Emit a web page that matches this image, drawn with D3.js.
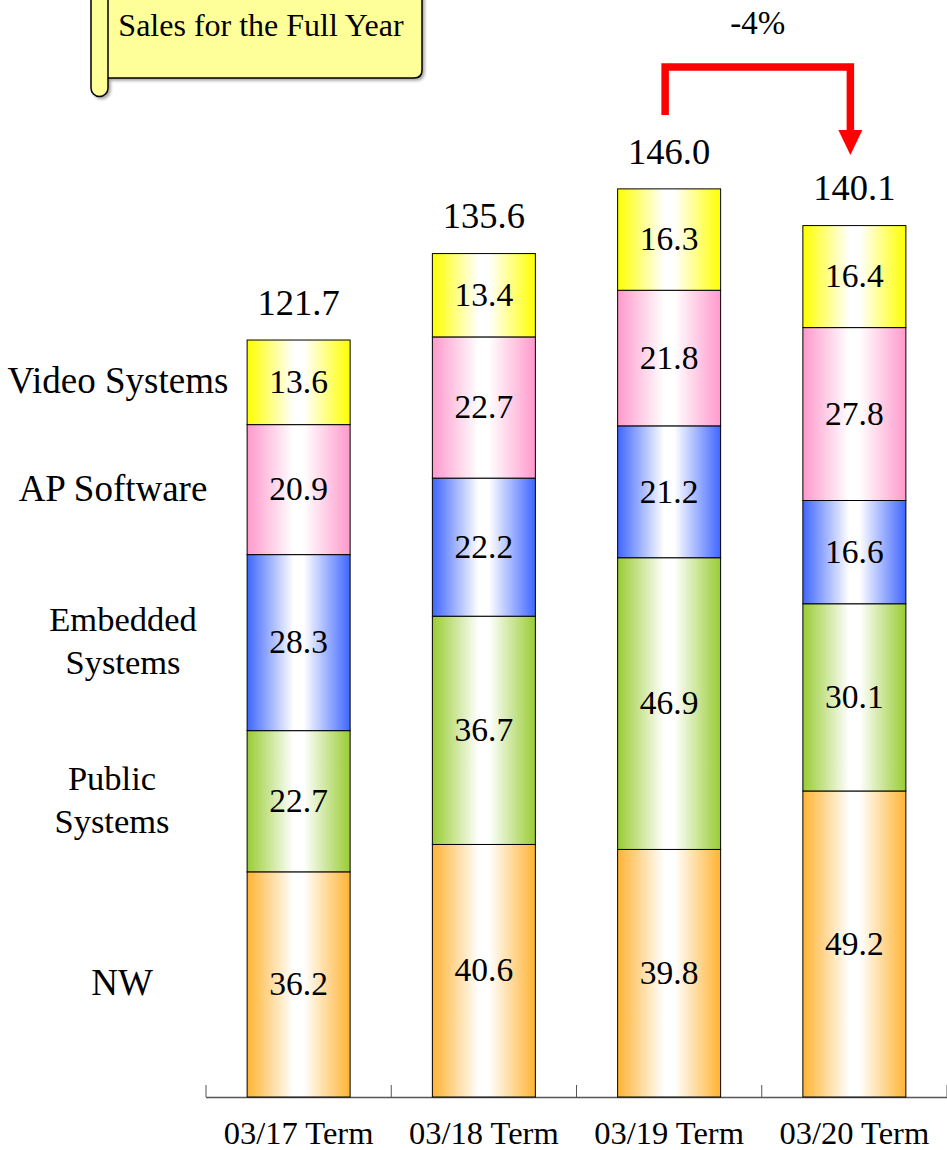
<!DOCTYPE html>
<html>
<head>
<meta charset="utf-8">
<script src="https://cdn.jsdelivr.net/npm/d3@7"></script>
<style>
  html, body { margin: 0; padding: 0; background: #fff; }
  svg { display: block; }
  text { font-family: "Liberation Serif", "Times New Roman", serif; fill: #000; }
</style>
</head>
<body>
<svg id="chart" width="947" height="1150"></svg>
<script>
// Sales for the full year, by segment (stacked bottom to top)
const categories = ["03/17 Term", "03/18 Term", "03/19 Term", "03/20 Term"];
const segments = ["NW", "Public Systems", "Embedded Systems", "AP Software", "Video Systems"];
const segmentLabelLines = [["NW"], ["Public", "Systems"], ["Embedded", "Systems"], ["AP Software"], ["Video Systems"]];
const nwValues       = [36.2, 40.6, 39.8, 49.2];
const publicValues   = [22.7, 36.7, 46.9, 30.1];
const embeddedValues = [28.3, 22.2, 21.2, 16.6];
const apValues       = [20.9, 22.7, 21.8, 27.8];
const videoValues    = [13.6, 13.4, 16.3, 16.4];
const totals         = [121.7, 135.6, 146.0, 140.1];
const changeLabel = "-4%";
const titleText = "Sales for the Full Year";

const seriesValues = [nwValues, publicValues, embeddedValues, apValues, videoValues];
const colors = ["#FFB333", "#99CC33", "#3F66FF", "#FF99CC", "#FFFF00"];
// horizontal centre of each segment name on the left
const legendXs = [122, 112, 123, 113, 118];

const svg = d3.select("#chart");
const baseY = 1097;

const x = d3.scaleBand()
  .domain(categories)
  .range([206, 947])
  .paddingInner(0.444)
  .paddingOuter(0.222);

const y = d3.scaleLinear()
  .domain([0, 150])
  .range([baseY, baseY - 150 * 6.22]);

// horizontal gradients: colour at both edges, white in the middle
const defs = svg.append("defs");
colors.forEach((c, i) => {
  const g = defs.append("linearGradient")
    .attr("id", "grad" + i)
    .attr("x1", "0%").attr("x2", "100%")
    .attr("y1", "0%").attr("y2", "0%");
  g.append("stop").attr("offset", "0%").attr("stop-color", c);
  g.append("stop").attr("offset", "45%").attr("stop-color", "#fff");
  g.append("stop").attr("offset", "55%").attr("stop-color", "#fff");
  g.append("stop").attr("offset", "100%").attr("stop-color", c);
});
const shadow = defs.append("filter").attr("id", "shadow")
  .attr("x", "-5%").attr("y", "-5%").attr("width", "115%").attr("height", "130%");
shadow.append("feDropShadow").attr("dx", 2).attr("dy", 2).attr("stdDeviation", 1.5)
  .attr("flood-color", "#000").attr("flood-opacity", 0.35);

// stack data
const rows = categories.map((cat, j) => {
  const r = { cat };
  segments.forEach((s, i) => { r[s] = seriesValues[i][j]; });
  return r;
});
const stacked = d3.stack().keys(segments)(rows);

// axis line with ticks at band boundaries
const axisG = svg.append("g");
axisG.append("line")
  .attr("x1", x.range()[0]).attr("x2", x.range()[1])
  .attr("y1", baseY + 0.5).attr("y2", baseY + 0.5)
  .attr("stroke", "#555").attr("stroke-width", 1.5);
const step = x.step();
d3.range(categories.length + 1).forEach(i => {
  const tx = x.range()[0] + i * step;
  axisG.append("line")
    .attr("x1", tx).attr("x2", tx)
    .attr("y1", baseY - 12).attr("y2", baseY)
    .attr("stroke", "#555").attr("stroke-width", 1);
});
axisG.selectAll("text.cat").data(categories).enter().append("text")
  .attr("class", "cat")
  .attr("x", d => x(d) + x.bandwidth() / 2)
  .attr("y", 1144)
  .attr("text-anchor", "middle")
  .attr("font-size", 32.5)
  .text(d => d);

// bars
const layers = svg.append("g").selectAll("g").data(stacked).enter().append("g");
layers.selectAll("rect").data(d => d).enter().append("rect")
  .attr("x", d => x(d.data.cat))
  .attr("width", x.bandwidth())
  .attr("y", d => y(d[1]))
  .attr("height", d => y(d[0]) - y(d[1]))
  .attr("fill", function () { return "url(#grad" + d3.select(this.parentNode).datum().index + ")"; })
  .attr("stroke", "#000").attr("stroke-width", 1);

layers.selectAll("text").data(d => d).enter().append("text")
  .attr("x", d => x(d.data.cat) + x.bandwidth() / 2)
  .attr("y", d => (y(d[0]) + y(d[1])) / 2 - 1)
  .attr("dy", "0.35em")
  .attr("text-anchor", "middle")
  .attr("font-size", 33.5)
  .text(d => (d[1] - d[0]).toFixed(1));

// totals above bars
svg.append("g").selectAll("text").data(categories).enter().append("text")
  .attr("x", d => x(d) + x.bandwidth() / 2)
  .attr("y", (d, j) => y(totals[j]) - 38)
  .attr("dy", "0.35em")
  .attr("text-anchor", "middle")
  .attr("font-size", 36.5)
  .text((d, j) => totals[j].toFixed(1));

// segment names on the left, aligned with the first bar's segments
const first = stacked.map(s => s[0]);
const leg = svg.append("g");
segmentLabelLines.forEach((lines, i) => {
  const cy = (y(first[i][0]) + y(first[i][1])) / 2 - 2;
  const lh = 43;
  const t = leg.append("text")
    .attr("text-anchor", "middle")
    .attr("font-size", lines.length > 1 ? 34.5 : 37);
  lines.forEach((ln, k) => {
    t.append("tspan")
      .attr("x", legendXs[i])
      .attr("y", cy + (k - (lines.length - 1) / 2) * lh)
      .attr("dy", "0.35em")
      .text(ln);
  });
});

// change arrow from 03/19 to 03/20
const xa = x(categories[2]) + x.bandwidth() / 2 - 4;
const xb = x(categories[3]) + x.bandwidth() / 2 - 4;
const topY = 67;
svg.append("path")
  .attr("d", `M${xa},115 V${topY} H${xb} V132`)
  .attr("fill", "none").attr("stroke", "#FF0000").attr("stroke-width", 7.5)
  .attr("stroke-linejoin", "miter");
svg.append("path")
  .attr("d", `M${xb - 12},130 L${xb + 12},130 L${xb},155 Z`)
  .attr("fill", "#FF0000");
svg.append("text")
  .attr("x", (xa + xb) / 2)
  .attr("y", 22)
  .attr("dy", "0.35em")
  .attr("text-anchor", "middle")
  .attr("font-size", 33)
  .text(changeLabel);

// scroll-shaped title banner
const banner = svg.append("g").attr("filter", "url(#shadow)");
banner.append("path")
  .attr("d", "M100,-10 H422 V70 Q422,78 414,78 H100 Z")
  .attr("fill", "#FFFF99").attr("stroke", "#000").attr("stroke-width", 1.5);
banner.append("path")
  .attr("d", "M91,-10 H108 V88 A8.5,8.5 0 0 1 91,88 Z")
  .attr("fill", "#FFFF99").attr("stroke", "#000").attr("stroke-width", 1.5);
svg.append("text")
  .attr("x", 261)
  .attr("y", 25)
  .attr("dy", "0.35em")
  .attr("text-anchor", "middle")
  .attr("font-size", 32)
  .text(titleText);
</script>
</body>
</html>
